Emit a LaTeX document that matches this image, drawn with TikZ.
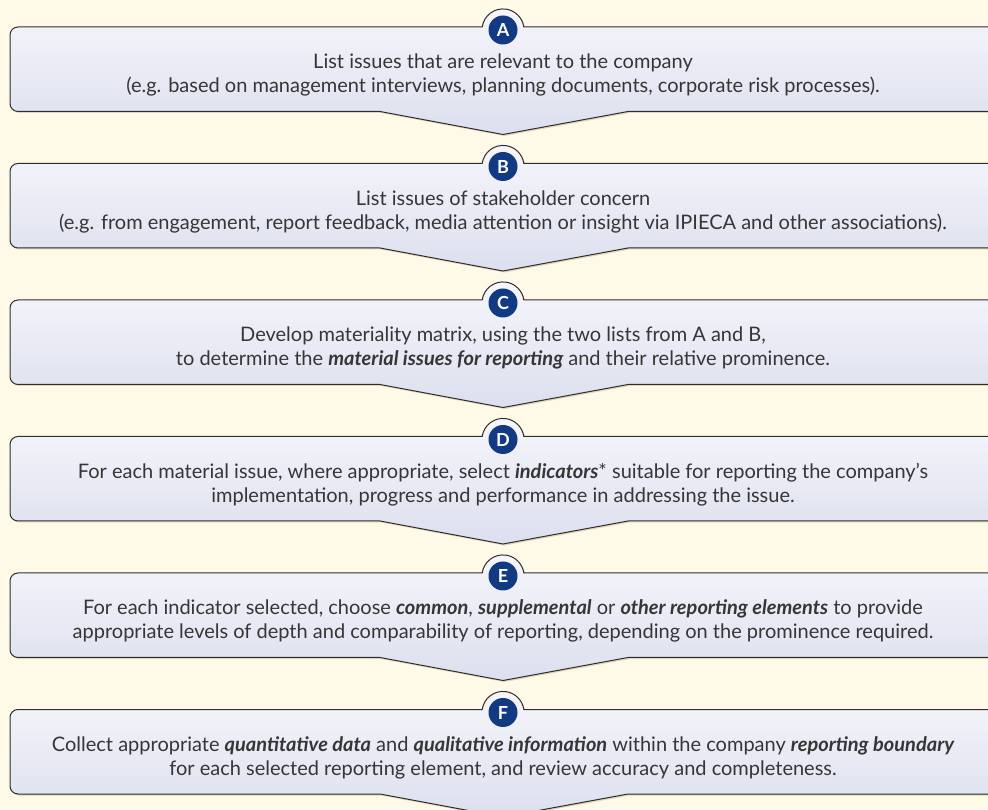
\documentclass[tikz,border=0pt]{standalone}
\usepackage{fontspec}
\setmainfont{Lato}
\definecolor{bg}{HTML}{FFFAE8}
\definecolor{boxtop}{HTML}{F6F6FB}
\definecolor{boxbot}{HTML}{DCDFEE}
\definecolor{boxline}{HTML}{2E2E2E}
\definecolor{shadowc}{HTML}{DDD6B8}
\definecolor{badgeblue}{HTML}{123A82}
\definecolor{textgray}{HTML}{363636}
\newcommand{\stagepath}[1]{(10,#1-8) arc[start angle=180,end angle=90,radius=8] -- (482.2,#1) arc[start angle=172,end angle=8,radius=21] -- (1010,#1) -- (1010,#1-84.5) -- (628,#1-84.5) -- (503,#1-107.5) -- (380,#1-84.5) -- (18,#1-84.5) arc[start angle=270,end angle=180,radius=8] -- cycle}
\newcommand{\stagebox}[2]{%
  \fill[shadowc,shift={(1.5,-1.5)}] \stagepath{#1};
  \draw[draw=boxline,line width=1pt,top color=boxtop,bottom color=boxbot] \stagepath{#1};
  \node[badge] (b#2) at (503,#1-3) {#2};
}
\begin{document}
\begin{tikzpicture}[x=1pt,y=1pt,
  txt/.style={font=\fontsize{20}{24}\selectfont, text=textgray, inner sep=0pt, anchor=base},
  badge/.style={circle, fill=badgeblue, text=white, font=\fontsize{18}{18}\selectfont\bfseries, minimum size=29pt, inner sep=0pt}]
\useasboundingbox (0,0) rectangle (988,809);
\clip (0,0) rectangle (988,809);
\fill[bg] (0,0) rectangle (988,809);
\newcommand{\bi}[1]{{\bfseries\itshape #1}}
% A
\stagebox{782}{A}
\node[txt] (tA1) at (503,782-42) {List issues that are relevant to the company};
\node[txt] (tA2) at (503,782-66) {(e.g. based on management interviews, planning documents, corporate risk processes).};
% B
\stagebox{645.5}{B}
\node[txt] (tB1) at (503,645.5-42) {List issues of stakeholder concern};
\node[txt] (tB2) at (503,645.5-66) {(e.g. from engagement, report feedback, media attention or insight via IPIECA and other associations).};
% C
\stagebox{509}{C}
\node[txt] (tC1) at (503,509-42) {Develop materiality matrix, using the two lists from A and B,};
\node[txt] (tC2) at (503,509-66) {to determine the \bi{material issues for reporting} and their relative prominence.};
% D
\stagebox{372.5}{D}
\node[txt] (tD1) at (503,372.5-42) {For each material issue, where appropriate, select \bi{indicators}* suitable for reporting the company’s};
\node[txt] (tD2) at (503,372.5-66) {implementation, progress and performance in addressing the issue.};
% E
\stagebox{236}{E}
\node[txt] (tE1) at (503,236-42) {For each indicator selected, choose \bi{common}, \bi{supplemental} or \bi{other reporting elements} to provide};
\node[txt] (tE2) at (503,236-66) {appropriate levels of depth and comparability of reporting, depending on the prominence required.};
% F
\stagebox{99.5}{F}
\node[txt] (tF1) at (503,99.5-42) {Collect appropriate \bi{quantitative data} and \bi{qualitative information} within the company \bi{reporting boundary}};
\node[txt] (tF2) at (503,99.5-66) {for each selected reporting element, and review accuracy and completeness.};
\end{tikzpicture}
\end{document}
